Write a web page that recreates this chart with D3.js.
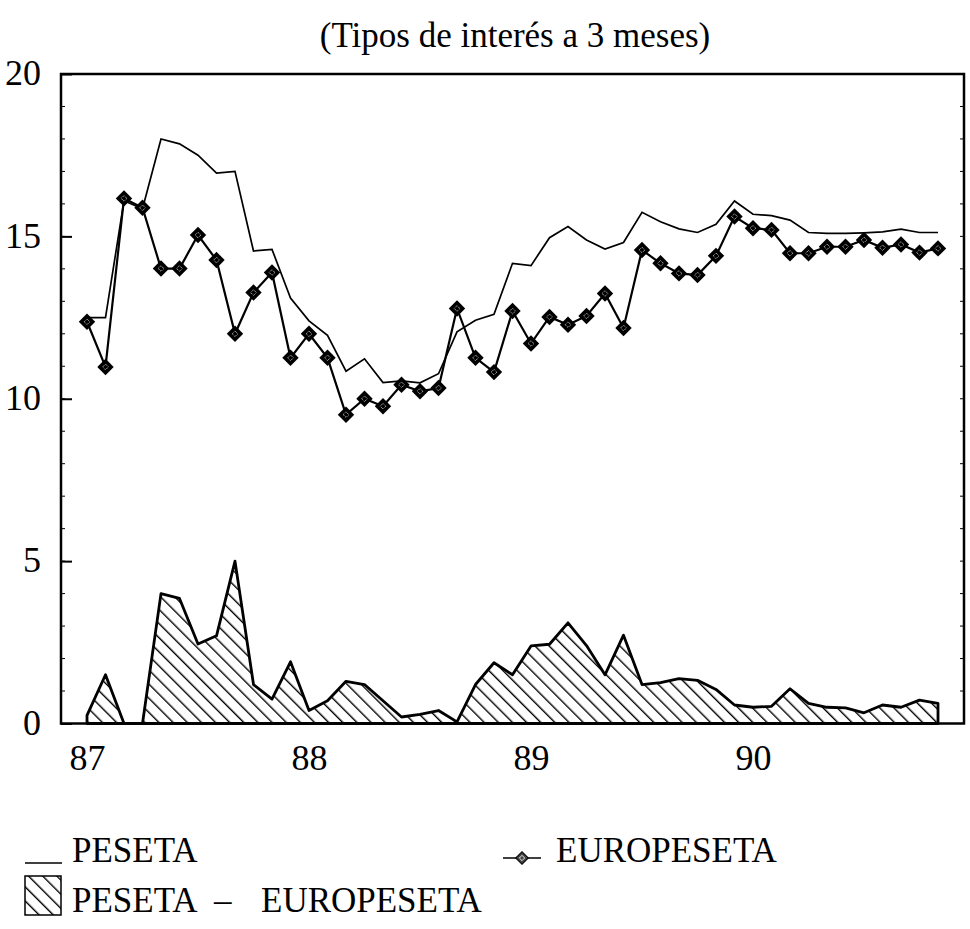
<!DOCTYPE html>
<html>
<head>
<meta charset="utf-8">
<script src="https://cdn.jsdelivr.net/npm/d3@7"></script>
</head>
<body style="margin:0; background:#fff">
<div id="chart"></div>
<script>
// monthly data, Jan 1987 .. Nov 1990 (47 months)
var yearLabels = ["87", "88", "89", "90"];
var yearStart = [0, 12, 24, 36];   // month index of each January

var peseta = [12.5, 12.5, 16.1, 15.85, 18.0, 17.85, 17.5, 16.95, 17.0, 14.55,
              14.6, 13.1, 12.4, 11.95, 10.85, 11.23, 10.5, 10.55, 10.49, 10.77,
              12.06, 12.42, 12.6, 14.17, 14.1, 14.96, 15.3, 14.89, 14.61, 14.81,
              15.74, 15.45, 15.23, 15.12, 15.37, 16.09, 15.68, 15.64, 15.5, 15.12,
              15.09, 15.09, 15.11, 15.14, 15.22, 15.12, 15.12];

var europeseta = [12.37, 10.98, 16.17, 15.88, 14.01, 14.01, 15.04, 14.27, 12.0, 13.27,
                  13.89, 11.26, 12.0, 11.26, 9.51, 10.0, 9.77, 10.43, 10.23, 10.33,
                  12.78, 11.26, 10.82, 12.7, 11.7, 12.52, 12.28, 12.55, 13.24, 12.18,
                  14.58, 14.17, 13.86, 13.81, 14.4, 15.61, 15.25, 15.2, 14.48, 14.48,
                  14.68, 14.68, 14.89, 14.65, 14.75, 14.5, 14.63];

// PESETA - EUROPESETA (drawn only where positive)
var spread = [0.25, 1.5, 0, 0, 4.0, 3.85, 2.45, 2.7, 5.0, 1.2,
              0.75, 1.9, 0.4, 0.7, 1.3, 1.2, 0.7, 0.2, 0.28, 0.4,
              0.05, 1.2, 1.87, 1.5, 2.39, 2.44, 3.1, 2.4, 1.5, 2.72,
              1.2, 1.26, 1.38, 1.33, 1.05, 0.57, 0.5, 0.53, 1.07, 0.62,
              0.5, 0.48, 0.33, 0.57, 0.5, 0.72, 0.62];

var yTicks = [0, 5, 10, 15, 20];

//SVG area and plot frame
var svgWidth = 970;
var svgHeight = 929;
var margin = {top: 74, right: 6, bottom: 205.5, left: 61};
var chartWidth = svgWidth - margin.left - margin.right;
var chartHeight = svgHeight - margin.top - margin.bottom;

var svg = d3.select("#chart").append("svg")
    .attr("width", svgWidth)
    .attr("height", svgHeight);

// hatch pattern for the spread area
var defs = svg.append("defs");
defs.append("pattern")
    .attr("id", "hatch")
    .attr("patternUnits", "userSpaceOnUse")
    .attr("width", 10)
    .attr("height", 10)
    .attr("patternTransform", "rotate(-45)")
  .append("line")
    .attr("x1", 0).attr("y1", 0)
    .attr("x2", 0).attr("y2", 10)
    .attr("stroke", "#000")
    .attr("stroke-width", 2.8);

var chartGroup = svg.append("g")
    .attr("transform", `translate(${margin.left}, ${margin.top})`);

// scales
var xScale = d3.scaleLinear()
    .domain([0, peseta.length - 1])
    .range([26, 877]);

var yScale = d3.scaleLinear()
    .domain([0, 20])
    .range([chartHeight, 0]);

// spread area
var area = d3.area()
    .x((d, i) => xScale(i))
    .y0(yScale(0))
    .y1(d => yScale(Math.max(0, d)));

chartGroup.append("path")
    .datum(spread)
    .attr("d", area)
    .attr("fill", "url(#hatch)")
    .attr("stroke", "#000")
    .attr("stroke-width", 2.8)
    .attr("stroke-linejoin", "round");

// peseta line
var line = d3.line()
    .x((d, i) => xScale(i))
    .y(d => yScale(d));

chartGroup.append("path")
    .datum(peseta)
    .attr("d", line)
    .attr("fill", "none")
    .attr("stroke", "#000")
    .attr("stroke-width", 1.7);

// europeseta line + diamonds
chartGroup.append("path")
    .datum(europeseta)
    .attr("d", line)
    .attr("fill", "none")
    .attr("stroke", "#000")
    .attr("stroke-width", 2.2);

var diamond = d3.symbol().type(d3.symbolSquare).size(135);
var marks = chartGroup.selectAll(".mark")
    .data(europeseta)
    .enter()
    .append("g")
    .attr("class", "mark")
    .attr("transform", (d, i) => `translate(${xScale(i)}, ${yScale(d)}) rotate(45)`);
marks.append("path")
    .attr("d", diamond)
    .attr("fill", "#000");
marks.append("path")
    .attr("d", d3.symbol().type(d3.symbolSquare).size(16))
    .attr("fill", "none")
    .attr("stroke", "#fff")
    .attr("stroke-width", 0.8)
    .attr("stroke-dasharray", "1,1");

// axes
var leftAxis = d3.axisLeft(yScale)
    .tickValues(yTicks)
    .tickSize(-11)
    .tickPadding(20);

var yAxisG = chartGroup.append("g").call(leftAxis)
    .attr("font-family", null)
    .attr("font-size", null);
yAxisG.select(".domain").remove();
yAxisG.selectAll("line").attr("stroke-width", 2);
yAxisG.selectAll("text")
    .attr("font-family", "Liberation Serif")
    .attr("font-size", 36)
    .attr("dy", "0.3em");

// minor ticks, every unit, both sides
var minor = d3.range(1, 20);
chartGroup.selectAll(".minorL")
    .data(minor)
    .enter()
    .append("line")
    .attr("x1", 0).attr("x2", 4)
    .attr("y1", d => yScale(d)).attr("y2", d => yScale(d))
    .attr("stroke", "#000").attr("stroke-width", 1);
chartGroup.selectAll(".minorR")
    .data(minor)
    .enter()
    .append("line")
    .attr("x1", chartWidth - 4).attr("x2", chartWidth)
    .attr("y1", d => yScale(d)).attr("y2", d => yScale(d))
    .attr("stroke", "#000").attr("stroke-width", 1);

var bottomAxis = d3.axisBottom(xScale)
    .tickValues(yearStart)
    .tickFormat((d, i) => yearLabels[i])
    .tickSize(0)
    .tickPadding(21);

var xAxisG = chartGroup.append("g")
    .attr("transform", `translate(0, ${chartHeight})`)
    .call(bottomAxis)
    .attr("font-family", null)
    .attr("font-size", null);
xAxisG.select(".domain").remove();
xAxisG.selectAll("text")
    .style("font-family", "Tinos")
    .attr("font-size", 36);

// frame
chartGroup.append("rect")
    .attr("x", 0).attr("y", 0)
    .attr("width", chartWidth)
    .attr("height", chartHeight)
    .attr("fill", "none")
    .attr("stroke", "#000")
    .attr("stroke-width", 2.5);

// title
svg.append("text")
    .attr("x", 515)
    .attr("y", 47)
    .attr("text-anchor", "middle")
    .attr("font-size", 35)
    .style("font-family", "'Liberation Serif'")
    .text("(Tipos de interés a 3 meses)");

// legend
var legend = svg.append("g")
    .attr("font-family", "Times New Roman")
    .attr("font-size", 35);

legend.append("line")
    .attr("x1", 25).attr("x2", 62)
    .attr("y1", 863).attr("y2", 863)
    .attr("stroke", "#000").attr("stroke-width", 1.5);
legend.append("text")
    .attr("x", 72).attr("y", 862)
    .text("PESETA");

legend.append("line")
    .attr("x1", 503).attr("x2", 541)
    .attr("y1", 858).attr("y2", 858)
    .attr("stroke", "#000").attr("stroke-width", 1.5);
var lm = legend.append("g")
    .attr("transform", "translate(522, 858) rotate(45)");
lm.append("path")
    .attr("d", d3.symbol().type(d3.symbolSquare).size(80))
    .attr("fill", "#444")
    .attr("stroke", "#000")
    .attr("stroke-width", 1);
lm.append("path")
    .attr("d", d3.symbol().type(d3.symbolSquare).size(14))
    .attr("fill", "none")
    .attr("stroke", "#fff")
    .attr("stroke-width", 0.8);
legend.append("text")
    .attr("x", 556).attr("y", 862)
    .text("EUROPESETA");

legend.append("rect")
    .attr("x", 25).attr("y", 876)
    .attr("width", 36).attr("height", 39)
    .attr("fill", "url(#hatch)")
    .attr("stroke", "#000")
    .attr("stroke-width", 1.5);
var lt = legend.append("text")
    .attr("y", 912);
lt.append("tspan").attr("x", 72).text("PESETA");
lt.append("tspan").attr("x", 214).text("–");
lt.append("tspan").attr("x", 261).text("EUROPESETA");
</script>
</body>
</html>
